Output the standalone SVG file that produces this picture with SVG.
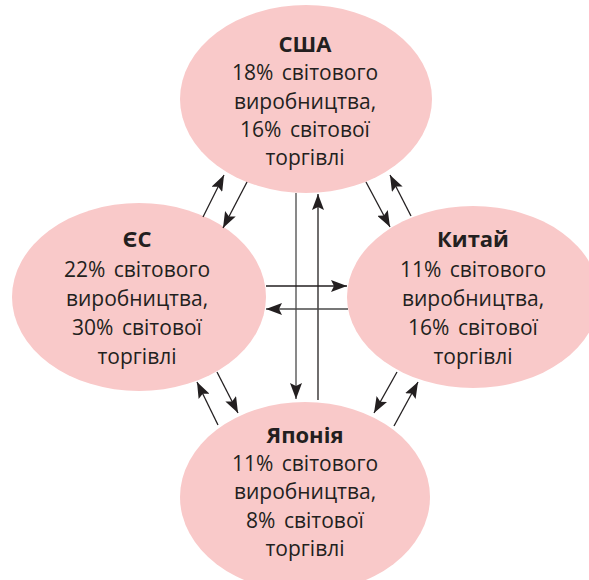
<svg xmlns="http://www.w3.org/2000/svg" width="589" height="580" viewBox="0 0 589 580">
<defs>
<style>
.node ellipse{fill:#F9C9C9;stroke:none}
.node text{font-family:"Open Sans","Noto Sans","Liberation Sans",sans-serif;font-size:21px;fill:#231F20;text-anchor:middle;word-spacing:3px}
.node text.t{font-weight:bold;font-size:22px}
.conn line{stroke:#231F20;stroke-width:1.3;marker-end:url(#ah)}
.conn line.g{stroke:#4a4a4a}
</style>
<marker id="ah" viewBox="0 0 16 12" refX="16" refY="6" markerWidth="16" markerHeight="12" markerUnits="userSpaceOnUse" orient="auto">
<path d="M0,0 L16,6 L0,12 L3,6 Z" fill="#231F20"/>
</marker>
</defs>
<rect width="589" height="580" fill="#fff"/>
<g id="usa" class="node">
<ellipse cx="306" cy="99" rx="126" ry="94"/>
<text class="t" x="305" y="52">США</text>
<text x="305" y="80">18% світового</text>
<text x="305" y="109">виробництва,</text>
<text x="305" y="137">16% світової</text>
<text x="305" y="165">торгівлі</text>
</g>
<g id="eu" class="node">
<ellipse cx="139" cy="297" rx="127" ry="94"/>
<text class="t" x="137" y="247">ЄС</text>
<text x="137" y="277">22% світового</text>
<text x="137" y="306">виробництва,</text>
<text x="137" y="335">30% світової</text>
<text x="137" y="364">торгівлі</text>
</g>
<g id="china" class="node">
<ellipse cx="473" cy="297" rx="126" ry="91"/>
<text class="t" x="473" y="247">Китай</text>
<text x="473" y="277">11% світового</text>
<text x="473" y="306">виробництва,</text>
<text x="473" y="335">16% світової</text>
<text x="473" y="364">торгівлі</text>
</g>
<g id="japan" class="node">
<ellipse cx="305" cy="497" rx="125" ry="95"/>
<text class="t" x="305" y="443">Японія</text>
<text x="305" y="471">11% світового</text>
<text x="305" y="499">виробництва,</text>
<text x="305" y="528">8% світової</text>
<text x="305" y="556">торгівлі</text>
</g>
<g id="connectors" class="conn">
<line class="g" x1="296" y1="193" x2="296" y2="399"/>
<line x1="318" y1="400" x2="318" y2="194"/>
<line x1="266" y1="286" x2="347" y2="286"/>
<line class="g" x1="348" y1="309" x2="266" y2="309"/>
<line x1="203" y1="217" x2="224" y2="175"/>
<line x1="247" y1="182" x2="223" y2="228"/>
<line x1="366" y1="182" x2="390" y2="227"/>
<line x1="411" y1="216" x2="390" y2="175"/>
<line x1="217" y1="372" x2="238" y2="413"/>
<line x1="218" y1="425" x2="197" y2="382"/>
<line x1="397" y1="372" x2="374" y2="413"/>
<line x1="394" y1="426" x2="418" y2="382"/>
</g>
</svg>
